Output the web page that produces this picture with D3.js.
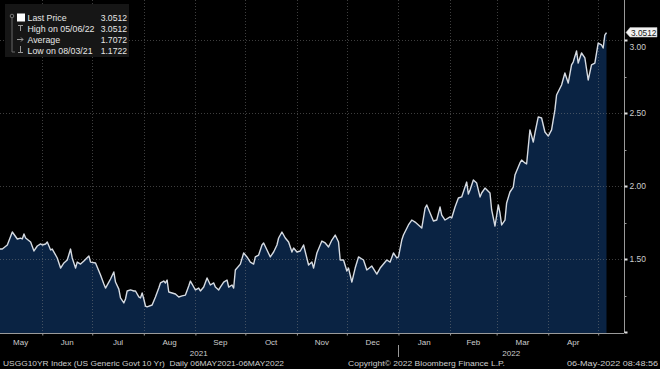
<!DOCTYPE html>
<html><head><meta charset="utf-8">
<script src="https://cdn.jsdelivr.net/npm/d3@7"></script>
<style>html,body{margin:0;padding:0;background:#000;overflow:hidden}svg{display:block}</style>
</head><body>
<svg id="c" width="660" height="369"></svg>
<script>
const dates = [
"2021-05-06","2021-05-08","2021-05-11","2021-05-14","2021-05-17","2021-05-19","2021-05-20","2021-05-21","2021-05-22","2021-05-25",
"2021-05-27","2021-05-29","2021-05-31","2021-06-01","2021-06-03","2021-06-04","2021-06-06","2021-06-07","2021-06-10","2021-06-12",
"2021-06-14","2021-06-16","2021-06-18","2021-06-19","2021-06-21","2021-06-22","2021-06-24","2021-06-26","2021-06-29","2021-06-30",
"2021-07-03","2021-07-04","2021-07-06","2021-07-08","2021-07-09","2021-07-11","2021-07-12","2021-07-14","2021-07-15","2021-07-17",
"2021-07-18","2021-07-20","2021-07-21","2021-07-22","2021-07-24","2021-07-26","2021-07-27","2021-07-29","2021-07-30","2021-07-31",
"2021-08-01","2021-08-02","2021-08-03","2021-08-06","2021-08-08","2021-08-10","2021-08-11","2021-08-13","2021-08-14","2021-08-15",
"2021-08-16","2021-08-18","2021-08-20","2021-08-22","2021-08-24","2021-08-26","2021-08-28","2021-08-29","2021-08-31","2021-09-01",
"2021-09-03","2021-09-04","2021-09-06","2021-09-08","2021-09-10","2021-09-12","2021-09-13","2021-09-15","2021-09-16","2021-09-18",
"2021-09-20","2021-09-21","2021-09-23","2021-09-24","2021-09-25","2021-09-28","2021-09-30","2021-10-02","2021-10-04","2021-10-06",
"2021-10-07","2021-10-09","2021-10-11","2021-10-12","2021-10-14","2021-10-16","2021-10-18","2021-10-20","2021-10-21","2021-10-23",
"2021-10-25","2021-10-27","2021-10-29","2021-10-30","2021-11-01","2021-11-03","2021-11-05","2021-11-08","2021-11-10","2021-11-11",
"2021-11-13","2021-11-16","2021-11-18","2021-11-20","2021-11-22","2021-11-24","2021-11-26","2021-11-27","2021-11-29","2021-12-01",
"2021-12-02","2021-12-04","2021-12-06","2021-12-08","2021-12-11","2021-12-13","2021-12-16","2021-12-19","2021-12-21","2021-12-23",
"2021-12-25","2021-12-27","2021-12-29","2021-12-31","2022-01-01","2022-01-03","2022-01-04","2022-01-07","2022-01-09","2022-01-11",
"2022-01-13","2022-01-15","2022-01-17","2022-01-18","2022-01-20","2022-01-22","2022-01-24","2022-01-26","2022-01-27","2022-01-29",
"2022-02-01","2022-02-02","2022-02-04","2022-02-06","2022-02-08","2022-02-09","2022-02-11","2022-02-12","2022-02-13","2022-02-15",
"2022-02-17","2022-02-19","2022-02-20","2022-02-22","2022-02-25","2022-02-26","2022-02-28","2022-03-02","2022-03-03","2022-03-04",
"2022-03-06","2022-03-07","2022-03-09","2022-03-11","2022-03-12","2022-03-14","2022-03-15","2022-03-16","2022-03-18","2022-03-19",
"2022-03-21","2022-03-23","2022-03-24","2022-03-26","2022-03-28","2022-03-30","2022-04-01","2022-04-03","2022-04-05","2022-04-06",
"2022-04-09","2022-04-11","2022-04-12","2022-04-13","2022-04-15","2022-04-16","2022-04-18","2022-04-19","2022-04-21","2022-04-23",
"2022-04-25","2022-04-27","2022-04-29","2022-05-01","2022-05-03","2022-05-04","2022-05-05","2022-05-06"];
const values = [
1.568,1.568,1.596,1.685,1.637,1.643,1.637,1.671,1.644,1.616,
1.555,1.589,1.603,1.596,1.603,1.616,1.562,1.568,1.507,1.438,
1.473,1.493,1.568,1.507,1.438,1.479,1.465,1.486,1.521,1.479,
1.473,1.445,1.390,1.329,1.301,1.342,1.363,1.411,1.342,1.294,
1.233,1.199,1.226,1.281,1.288,1.281,1.281,1.240,1.233,1.267,
1.226,1.178,1.1722,1.185,1.240,1.301,1.336,1.349,1.336,1.356,
1.274,1.267,1.260,1.240,1.247,1.253,1.315,1.349,1.308,1.288,
1.301,1.281,1.308,1.370,1.322,1.336,1.308,1.288,1.308,1.342,
1.356,1.308,1.322,1.301,1.425,1.465,1.541,1.514,1.479,1.465,
1.514,1.527,1.596,1.610,1.562,1.514,1.548,1.596,1.644,1.685,
1.644,1.616,1.548,1.575,1.548,1.555,1.596,1.459,1.479,1.438,
1.541,1.623,1.610,1.582,1.630,1.664,1.616,1.493,1.493,1.418,
1.438,1.342,1.438,1.514,1.493,1.425,1.452,1.397,1.438,1.466,
1.493,1.479,1.541,1.507,1.514,1.630,1.664,1.733,1.767,1.753,
1.733,1.712,1.849,1.870,1.815,1.760,1.767,1.856,1.801,1.767,
1.788,1.781,1.856,1.918,1.925,1.959,2.027,1.945,1.973,2.041,
2.020,1.925,1.952,1.986,1.952,1.836,1.726,1.870,1.815,1.733,
1.767,1.884,1.959,1.993,2.075,2.130,2.158,2.178,2.158,2.151,
2.384,2.301,2.363,2.473,2.466,2.370,2.342,2.384,2.521,2.623,
2.692,2.774,2.740,2.705,2.829,2.849,2.925,2.842,2.911,2.877,
2.726,2.829,2.842,2.979,2.966,2.945,3.034,3.0512];

const yTicks = [1.00, 1.50, 2.00, 2.50, 3.00];
const yMinorTicks = [1.25, 1.75, 2.25, 2.75];
const monthStarts = ["2021-05-06","2021-06-01","2021-07-01","2021-08-01","2021-09-01","2021-10-01","2021-11-01","2021-12-01",
  "2022-01-01","2022-02-01","2022-03-01","2022-04-01","2022-05-01"];
const monthLabels = ["May","Jun","Jul","Aug","Sep","Oct","Nov","Dec","Jan","Feb","Mar","Apr"];
const yearLabels = ["2021","2022"];
const yearStarts = ["2022-01-01"];
const legendLabels = ["Last Price","High on 05/06/22","Average","Low on 08/03/21"];
const legendValues = ["3.0512","3.0512","1.7072","1.1722"];
const lastPrice = "3.0512";
const footerLeft = "USGG10YR Index (US Generic Govt 10 Yr)  Daily 06MAY2021-06MAY2022";
const footerMid = "Copyright\u00A9 2022 Bloomberg Finance L.P.";
const footerRight = "06-May-2022 08:48:56";

const parse = d3.utcParse("%Y-%m-%d");
const data = dates.map((d,i)=>({date:parse(d), v:values[i]}));

const svg = d3.select("#c");
const plotLeft = 0, plotRight = 624, plotTop = 0, plotBottom = 333;
const x = d3.scaleUtc().domain([parse("2021-05-06"), parse("2022-05-06")]).range([-1, 606.5]);
const y = d3.scaleLinear().domain([1, 3]).range([332, 40]);
const font = "'Liberation Sans', Arial, sans-serif";
const txt = "#cdcdcd";

svg.append("rect").attr("width",660).attr("height",369).attr("fill","#000");

// area + line
const area = d3.area().x(d=>x(d.date)).y0(plotBottom).y1(d=>y(d.v));
const line = d3.line().x(d=>x(d.date)).y(d=>y(d.v));
svg.append("path").datum(data).attr("d",area).attr("fill","#0a2343");

// gridlines
const ms = monthStarts.slice(1).map(parse);
svg.append("g").selectAll("line").data(ms).join("line")
  .attr("x1",d=>Math.round(x(d))+0.5).attr("x2",d=>Math.round(x(d))+0.5)
  .attr("y1",plotTop).attr("y2",plotBottom)
  .attr("stroke","#8a8a8a").attr("stroke-opacity",0.45).attr("stroke-dasharray","1,2");
svg.append("g").selectAll("line").data(yTicks.slice(1)).join("line")
  .attr("x1",plotLeft).attr("x2",plotRight)
  .attr("y1",d=>Math.round(y(d))+0.5).attr("y2",d=>Math.round(y(d))+0.5)
  .attr("stroke","#8a8a8a").attr("stroke-opacity",0.45).attr("stroke-dasharray","1,2");

svg.append("path").datum(data).attr("d",line).attr("fill","none")
  .attr("stroke","#d6dbe2").attr("stroke-width",1.4).attr("stroke-linejoin","round");

// right axis
const yAxis = d3.axisRight(y).tickValues(yTicks).tickSize(3).tickFormat(d=> d===1 ? "" : d3.format(".2f")(d));
const gy = svg.append("g").attr("transform",`translate(${plotRight+0.5},0)`).call(yAxis);
gy.select(".domain").attr("stroke","#9a9a9a").attr("d",`M0,${plotTop}V${plotBottom}`);
gy.selectAll(".tick line").attr("stroke","#e0e0e0").attr("stroke-width",2);
gy.selectAll(".tick text").attr("fill",txt).attr("font-family",font).attr("font-size",8.5).attr("x",5);
// the 3.00 label sits just below the last-price tag, as in the original
gy.selectAll(".tick text").filter(d=>d===3).attr("dy","1.15em");
svg.append("g").selectAll("line").data(yMinorTicks).join("line")
  .attr("x1",plotRight).attr("x2",plotRight+2.5)
  .attr("y1",d=>Math.round(y(d))+0.5).attr("y2",d=>Math.round(y(d))+0.5)
  .attr("stroke","#9a9a9a");

// bottom axis
const xAxis = d3.axisBottom(x).tickValues(ms).tickSize(2).tickFormat("");
const gx = svg.append("g").attr("transform",`translate(0,${plotBottom+0.5})`).call(xAxis);
gx.select(".domain").attr("stroke","#9a9a9a").attr("d",`M${plotLeft},0H${plotRight}`);
gx.selectAll(".tick line").attr("stroke","#9a9a9a");

// month labels
const bounds = monthStarts.map(parse);
svg.append("g").selectAll("text").data(monthLabels).join("text")
  .attr("x",(d,i)=> (x(bounds[i]) + x(bounds[i+1]))/2)
  .attr("y",345).attr("text-anchor","middle")
  .attr("fill",txt).attr("font-family",font).attr("font-size",8).text(d=>d);

// year labels
const ys = parse(yearStarts[0]);
const yearPos = [(x(bounds[0]) + x(ys))/2, (x(ys) + plotRight)/2];
svg.append("g").selectAll("text").data(yearLabels).join("text")
  .attr("x",(d,i)=>yearPos[i]).attr("y",355.5).attr("text-anchor","middle")
  .attr("fill",txt).attr("font-family",font).attr("font-size",8).text(d=>d);
svg.append("line").attr("x1",Math.round(x(ys))+0.5).attr("x2",Math.round(x(ys))+0.5)
  .attr("y1",345).attr("y2",357).attr("stroke","#9a9a9a");

// footer
svg.append("text").attr("x",3).attr("y",365.5).attr("fill",txt).attr("font-family",font).attr("font-size",8)
  .attr("textLength",281).attr("lengthAdjust","spacingAndGlyphs").attr("xml:space","preserve").text(footerLeft);
svg.append("text").attr("x",348).attr("y",365.5).attr("fill",txt).attr("font-family",font).attr("font-size",8)
  .attr("textLength",157).attr("lengthAdjust","spacingAndGlyphs").text(footerMid);
svg.append("text").attr("x",567).attr("y",365.5).attr("fill",txt).attr("font-family",font).attr("font-size",8)
  .attr("textLength",91).attr("lengthAdjust","spacingAndGlyphs").text(footerRight);

// last price tag
const ly = y(+lastPrice);
const tag = svg.append("g");
tag.append("path")
  .attr("d",`M${plotRight+2},${ly} L${plotRight+6},${ly-5} H657 V${ly+4.5} H${plotRight+6} Z`)
  .attr("fill","#f2f2f2").attr("stroke","#bdbdbd").attr("stroke-width",0.5);
tag.append("text").attr("x",631).attr("y",ly+3).attr("fill","#1a1a1a")
  .attr("font-family",font).attr("font-size",8.3).text(lastPrice);

// legend
const lg = svg.append("g");
lg.append("rect").attr("x",5).attr("y",4).attr("width",124).attr("height",53).attr("fill","#161616");
const rowY = [21, 32, 43, 53.5];
lg.selectAll("text.lab").data(legendLabels).join("text").attr("class","lab")
  .attr("x",27.5).attr("y",(d,i)=>rowY[i]).attr("fill","#e6e6e6")
  .attr("font-family",font).attr("font-size",8.8).text(d=>d);
lg.selectAll("text.val").data(legendValues).join("text").attr("class","val")
  .attr("x",127).attr("y",(d,i)=>rowY[i]).attr("text-anchor","end").attr("fill","#e6e6e6")
  .attr("font-family",font).attr("font-size",8.6).text(d=>d);
lg.append("rect").attr("x",17).attr("y",13.5).attr("width",8).attr("height",8).attr("fill","#fff");
// bracket
lg.append("circle").attr("cx",12).attr("cy",16).attr("r",1.8).attr("fill","none").attr("stroke","#777");
lg.append("path").attr("d","M12,18 V52 H15").attr("fill","none").attr("stroke","#666");
// icons
lg.append("path").attr("d","M18,25.5 H23 M20.5,25.5 V31").attr("stroke","#9a9a9a").attr("fill","none");
lg.append("path").attr("d","M17,39.5 H23 M21,37.5 L23,39.5 L21,41.5").attr("stroke","#9a9a9a").attr("fill","none");
lg.append("path").attr("d","M20.5,46 V52 M18,52.5 H23").attr("stroke","#9a9a9a").attr("fill","none");
</script>
</body></html>
